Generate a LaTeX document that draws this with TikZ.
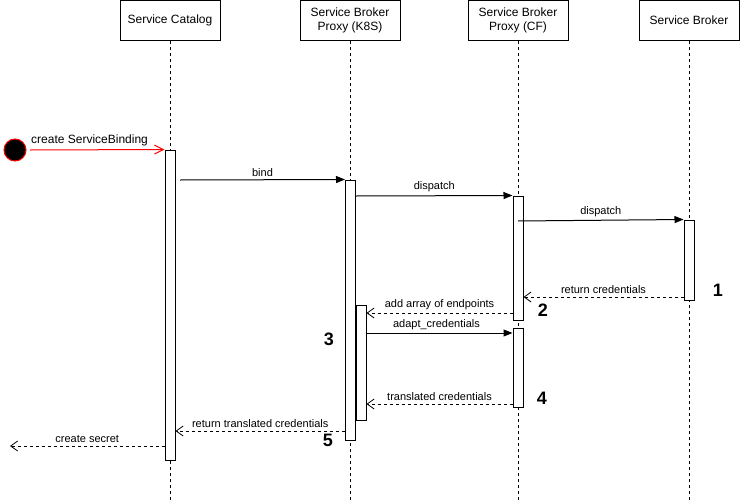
\documentclass[tikz,border=0pt]{standalone}
\usepackage{fontspec}
\setmainfont{Liberation Sans}
\usetikzlibrary{arrows.meta}
\begin{document}
\begin{tikzpicture}[x=1pt,y=-1pt,
  hdr/.style={draw,line width=1pt,fill=white,minimum width=100pt,minimum height=40pt,inner sep=0pt,align=center,font=\fontsize{12}{14}\selectfont},
  life/.style={line width=0.8pt,dash pattern=on 3pt off 3pt},
  bar/.style={draw,line width=1pt,fill=white,minimum width=10pt,inner sep=0pt},
  call/.style={line width=1pt,-{Triangle[length=9pt,width=7pt]}},
  ret/.style={line width=0.8pt,dash pattern=on 3pt off 3pt,-{Straight Barb[length=7pt,width=10pt,line width=0.8pt]}},
  lbl/.style={font=\fontsize{11}{13}\selectfont,inner sep=1pt,anchor=south},
  num/.style={font=\fontsize{18}{20}\selectfont\bfseries,inner sep=0pt}
]
\useasboundingbox (0,0) rectangle (740,501);
% headers
\node[hdr] (hcat) at (170,20.5) {Service Catalog};
\node[hdr] (hk8s) at (350,20.5) {Service Broker\\Proxy (K8S)};
\node[hdr] (hcf)  at (518,20.5) {Service Broker\\Proxy (CF)};
\node[hdr] (hsb)  at (689,20.5) {Service Broker};
% lifeline ends
\coordinate (ecat) at (170,501);
\coordinate (ek8s) at (350,501);
\coordinate (ecf)  at (518,501);
\coordinate (esb)  at (689,501);
\draw[life] (hcat.south) -- (ecat);
\draw[life] (hk8s.south) -- (ek8s);
\draw[life] (hcf.south) -- (ecf);
\draw[life] (hsb.south) -- (esb);
% activation bars
\node[bar,minimum height=310pt] (cat1) at (170,305) {};
\node[bar,minimum height=260pt] (k1) at (350.5,310) {};
\node[bar,minimum height=115pt] (k2) at (361,362.5) {};
\node[bar,minimum height=124pt] (cf1) at (518,258) {};
\node[bar,minimum height=79pt] (cf2) at (518,367.5) {};
\node[bar,minimum height=80pt] (sb1) at (689,260) {};
% start
\node[circle,draw=red,fill=black,line width=1pt,minimum size=22pt,inner sep=0pt] (start) at (15,150) {};
\coordinate (sstart) at (30,150);
\draw[red,line width=1pt,-{Straight Barb[length=9pt,width=9pt,line width=1pt]}] (sstart) -- (cat1.north west);
\node[font=\fontsize{12}{14}\selectfont,inner sep=1pt,anchor=south west] (lcreate) at (30,147) {create ServiceBinding};
% messages
\coordinate (b0) at (180,180);
\draw[call] (b0) -- (k1.north west) node[lbl,midway,above=2pt] {bind};
\draw[call] (k1.east |- 0,196) -- (cf1.north west) node[lbl,midway,above=2pt] {dispatch};
\draw[call] (cf1.center |- 0,221) -- (sb1.north west) node[lbl,midway,above=2pt] {dispatch};
\draw[ret] (sb1.west |- 0,297) -- (cf1.east |- 0,297) node[lbl,midway,above=2pt] {return credentials};
\draw[ret] (cf1.west |- 0,313) -- (k2.east |- 0,313) node[lbl,midway,above=2pt] {add array of endpoints};
\draw[call] (k2.east |- 0,333) -- (cf2.west |- 0,333) node[lbl,midway,above=2pt,xshift=-3pt] {adapt\_credentials};
\draw[ret] (cf2.west |- 0,404) -- (k2.east |- 0,404) node[lbl,midway,above=2pt] {translated credentials};
\draw[ret] (k1.west |- 0,431) -- (cat1.east |- 0,431) node[lbl,midway,above=2pt] {return translated credentials};
\coordinate (secret) at (10,446);
\draw[ret] (cat1.west |- 0,446) -- (secret) node[lbl,midway,above=2pt] {create secret};
% step numbers
\node[num] (n1) at (718,290) {1};
\node[num] (n2) at (543,310) {2};
\node[num] (n3) at (329,339) {3};
\node[num] (n4) at (542,398) {4};
\node[num] (n5) at (328,440) {5};
\end{tikzpicture}
\end{document}
